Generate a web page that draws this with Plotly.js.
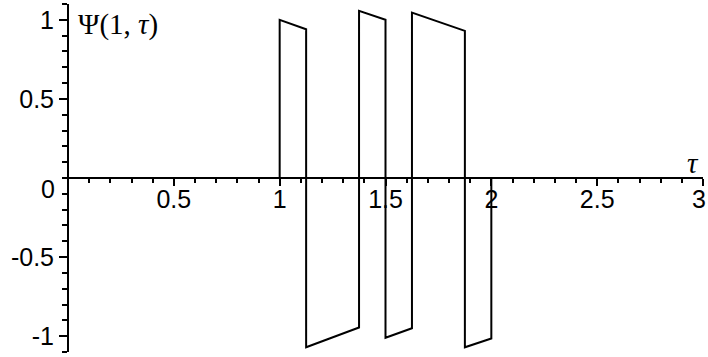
<!DOCTYPE html>
<html>
<head>
<meta charset="utf-8">
<script src="https://cdn.plot.ly/plotly-3.0.1.min.js"></script>
<style>
  html, body { margin: 0; padding: 0; background: #fff; }
  #plot { width: 708px; height: 357px; }
</style>
</head>
<body>
<div id="plot"></div>
<script>
// Psi(1, tau): piecewise signal sampled at its jump points
const tau = [0, 1, 1, 1.125, 1.125, 1.375, 1.375, 1.5, 1.5, 1.625, 1.625, 1.875, 1.875, 2, 2, 3];
const psi = [0, 0, 1.0, 0.94, -1.07, -0.945, 1.057, 1.0, -1.01, -0.95, 1.046, 0.93, -1.07, -1.015, 0, 0];

// Axis ticks and labels
const xTickVals = [0.5, 1, 1.5, 2, 2.5, 3];
const xTickText = ["0.5", "1", "1.5", "2", "2.5", "3"];
const yTickVals = [-1, -0.5, 0.5, 1];
const yTickText = ["-1", "-0.5", "0.5", "1"];
const originLabel = "0";
const yAxisLabel = "\u03A8(1, <i>\u03C4</i>)";
const xAxisLabel = "<i>\u03C4</i>";

const labelFont = { family: "Liberation Sans, Arial, sans-serif", size: 25, color: "#000" };
const mathFont = { family: "Liberation Serif, Times New Roman, serif", size: 29, color: "#000" };

// The last x label sits at the right edge, so it is drawn right-aligned
// as an annotation to keep it inside the page.
const lastIdx = xTickVals.length - 1;
const xAxisText = xTickText.map((t, i) => (i === lastIdx ? "" : t));

const trace = {
  x: tau,
  y: psi,
  type: "scatter",
  mode: "lines",
  line: { color: "#000", width: 2 },
  hoverinfo: "skip"
};

const layout = {
  width: 708,
  height: 357,
  margin: { l: 68, r: 5, t: 4, b: 5 },
  paper_bgcolor: "#fff",
  plot_bgcolor: "#fff",
  showlegend: false,
  xaxis: {
    range: [0, 3],
    anchor: "free",
    position: 0.5,
    showgrid: false,
    zeroline: false,
    showline: true,
    linecolor: "#000",
    linewidth: 2,
    tickmode: "array",
    tickvals: xTickVals,
    ticktext: xAxisText,
    ticks: "outside",
    ticklen: 7,
    tickwidth: 2,
    tickcolor: "#000",
    tickfont: labelFont,
    ticklabeloverflow: "allow",
    ticklabelstandoff: -8,
    minor: { tickmode: "linear", tick0: 0, dtick: 0.1, ticks: "outside", ticklen: 4, tickwidth: 2, tickcolor: "#000", showgrid: false }
  },
  yaxis: {
    range: [-1.1, 1.1],
    anchor: "free",
    position: 0,
    showgrid: false,
    zeroline: false,
    showline: true,
    linecolor: "#000",
    linewidth: 2,
    tickmode: "array",
    tickvals: yTickVals,
    ticktext: yTickText,
    ticks: "outside",
    ticklen: 8,
    tickwidth: 2,
    tickcolor: "#000",
    tickfont: labelFont,
    ticklabeloverflow: "allow",
    minor: { tickmode: "linear", tick0: 0, dtick: 0.1, ticks: "outside", ticklen: 5, tickwidth: 2, tickcolor: "#000", showgrid: false }
  },
  annotations: [
    { text: yAxisLabel, xref: "paper", yref: "paper", x: 0.013, y: 0.9425, xanchor: "left", yanchor: "middle", showarrow: false, font: mathFont },
    { text: xAxisLabel, xref: "x", yref: "y", x: 2.952, y: 0.095, xanchor: "center", yanchor: "middle", showarrow: false, font: mathFont },
    { text: originLabel, xref: "paper", yref: "y", x: -0.032, y: -0.07, xanchor: "center", yanchor: "middle", showarrow: false, font: labelFont },
    { text: xTickText[lastIdx], xref: "x", yref: "y", x: xTickVals[lastIdx], y: 0, xanchor: "right", yanchor: "top", xshift: 5, yshift: -5, showarrow: false, font: labelFont }
  ]
};

Plotly.newPlot("plot", [trace], layout, { displayModeBar: false, staticPlot: true });
</script>
</body>
</html>
